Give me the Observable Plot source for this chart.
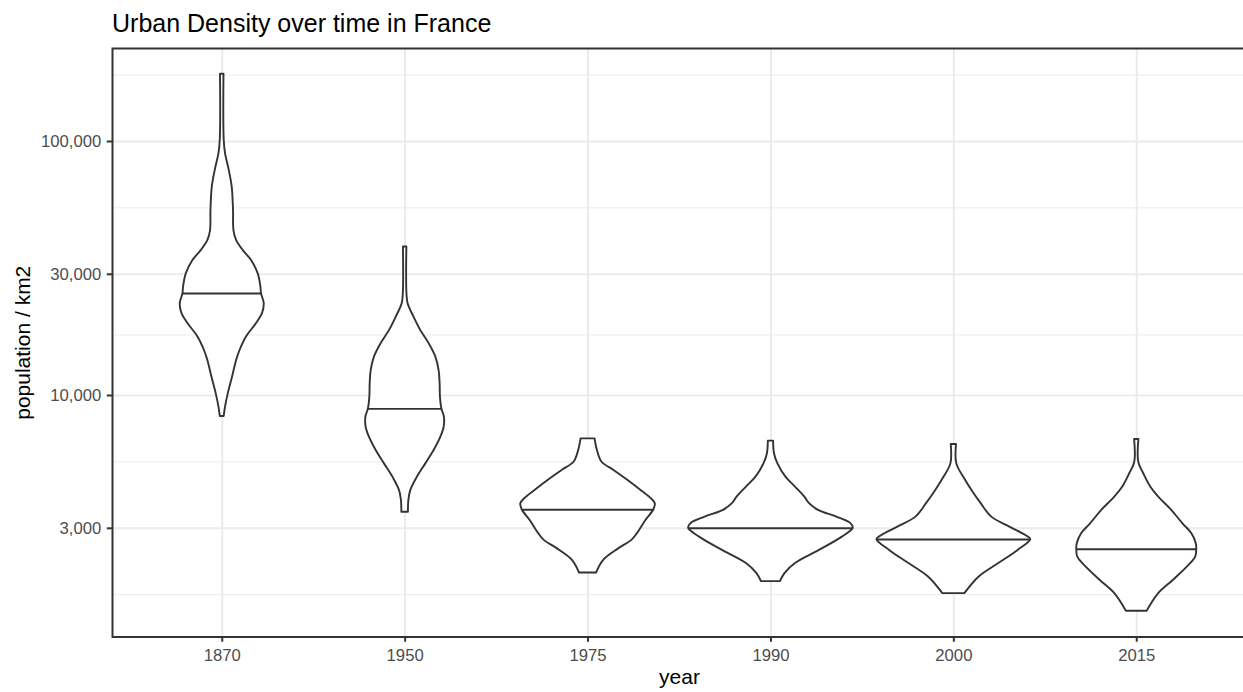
<!DOCTYPE html>
<html>
<head>
<meta charset="utf-8">
<script src="https://cdn.jsdelivr.net/npm/d3@7"></script>
<script src="https://cdn.jsdelivr.net/npm/@observablehq/plot@0.6"></script>
<style>
  html, body { margin: 0; padding: 0; background: white; }
  #wrap { width: 1243px; height: 692px; overflow: hidden; font-family: "Liberation Sans", Arial, Helvetica, sans-serif; }
  #title { position: relative; height: 40px; }
  #title span { position: absolute; left: 112px; top: 11px; font-size: 25px; line-height: 25px; color: #000; white-space: nowrap; }
  svg { display: block; }
</style>
</head>
<body>
<div id="wrap">
  <div id="title"><span>Urban Density over time in France</span></div>
  <div id="chart"></div>
</div>
<script>
// ---- data ----
const years = ["1870", "1950", "1975", "1990", "2000", "2015"];
const medians = [25200, 8860, 3550, 3000, 2710, 2480];

// violin outlines: density value (population / km2) and relative width (max = 100)
const dens1870 = [184000, 101000, 89500, 77000, 66100, 53500, 44600, 40800, 37200, 34000, 30100, 26700, 25150, 23000, 21000, 19200, 17000, 15000, 13700, 11800, 10150, 9000, 8270];
const width1870 = [2.1, 2.4, 4.0, 8.5, 12.1, 13.7, 14.2, 17.4, 25.5, 35.6, 43.7, 47.0, 47.7, 51.0, 48.9, 41.7, 29.5, 21.5, 17.4, 12.5, 7.3, 4.0, 2.4];

const dens1950 = [38400, 30100, 25150, 22960, 20300, 18000, 16000, 14150, 12500, 11100, 9850, 8860, 8210, 7500, 6850, 6070, 5380, 4770, 4230, 3860, 3470];
const width1950 = [2.1, 1.8, 2.2, 3.6, 10.9, 19.1, 29.1, 37.3, 41.3, 42.5, 42.9, 44.6, 47.7, 47.4, 43.4, 35.2, 25.1, 14.9, 6.9, 4.5, 4.0];

const dens1975 = [6750, 6070, 5460, 5070, 4630, 4230, 3920, 3750, 3550, 3220, 2860, 2690, 2490, 2240, 2000];
const width1975 = [8.5, 11.4, 17.0, 31.5, 48.6, 64.4, 77.1, 81.7, 80.0, 70.3, 60.0, 53.2, 37.2, 18.8, 10.3];

const dens1990 = [6610, 5900, 5380, 4770, 4360, 3980, 3750, 3530, 3320, 3130, 3000, 2770, 2450, 2180, 1990, 1850];
const width1990 = [3.2, 4.3, 8.5, 18.2, 29.8, 41.2, 46.9, 57.7, 80.1, 97.1, 100, 86.8, 58.3, 29.8, 17.0, 11.5];

const dens2000 = [6410, 5380, 4700, 4160, 3750, 3320, 3030, 2810, 2710, 2450, 2180, 1930, 1660];
const width2000 = [3.2, 3.6, 13.1, 23.4, 33.2, 46.1, 68.0, 87.4, 93.5, 77.7, 54.6, 30.8, 13.4];

const dens2015 = [6710, 5460, 4920, 4360, 3980, 3530, 3130, 2860, 2610, 2480, 2310, 2110, 1870, 1660, 1415];
const width2015 = [2.6, 2.4, 8.5, 17.0, 26.7, 42.5, 55.9, 66.8, 72.3, 72.9, 71.6, 61.4, 44.3, 26.7, 12.6];

const yTicks = [3000, 10000, 30000, 100000];
const yMinor = [1643, 5477, 17321, 54772, 182574];

// ---- build tables ----
const allDens = [dens1870, dens1950, dens1975, dens1990, dens2000, dens2015];
const allWidth = [width1870, width1950, width1975, width1990, width2000, width2015];
const maxHalf = 0.45; // ggplot violin: width 0.9 of a category step

const outline = [];
allDens.forEach((vals, i) => {
  vals.forEach((v, j) => {
    const h = allWidth[i][j] / 100 * maxHalf;
    outline.push({year: years[i], v, x1: i - h, x2: i + h});
  });
});

function widthAt(vals, ws, m) {
  const lm = Math.log(m);
  for (let j = 0; j < vals.length - 1; j++) {
    const a = Math.log(vals[j]), b = Math.log(vals[j + 1]);
    if ((lm <= a && lm >= b) || (lm >= a && lm <= b)) {
      const t = a === b ? 0 : (lm - a) / (b - a);
      return ws[j] + t * (ws[j + 1] - ws[j]);
    }
  }
  return 0;
}
const medianRows = medians.map((m, i) => {
  const h = widthAt(allDens[i], allWidth[i], m) / 100 * maxHalf;
  return {year: years[i], v: m, x1: i - h, x2: i + h};
});

const idx = years.map((_, i) => i);
const ink = "#333333";
const grid = "#ebebeb";

const chart = Plot.plot({
  width: 1243,
  height: 652,
  marginLeft: 112,
  marginRight: -3,
  marginTop: 8,
  marginBottom: 55.5,
  style: {fontFamily: '"Liberation Sans", Arial, Helvetica, sans-serif', background: "white", overflow: "hidden"},
  x: {type: "linear", domain: [-0.6, 5.6]},
  y: {type: "log", domain: [1120, 232300]},
  marks: [
    Plot.gridY(yMinor, {stroke: grid, strokeOpacity: 1, strokeWidth: 1}),
    Plot.gridY(yTicks, {stroke: grid, strokeOpacity: 1, strokeWidth: 2}),
    Plot.gridX(idx, {stroke: grid, strokeOpacity: 1, strokeWidth: 2}),
    Plot.areaX(outline, {y: "v", x1: "x1", x2: "x2", z: "year", fill: "white", stroke: ink, strokeWidth: 1.9, curve: "catmull-rom"}),
    Plot.ruleY(medianRows, {y: "v", x1: "x1", x2: "x2", stroke: ink, strokeWidth: 1.9}),
    Plot.frame({stroke: ink, strokeWidth: 2}),
    Plot.axisY(yTicks, {tickSize: 5.2, tickPadding: 6, tickFormat: d3.format(","), fontSize: 16.7, stroke: ink, fill: "#4d4d4d", strokeWidth: 2, label: null}),
    Plot.axisX(idx, {tickSize: 5.2, tickPadding: 7, tickFormat: i => years[i], fontSize: 16.7, stroke: ink, fill: "#4d4d4d", strokeWidth: 2, label: null}),
    Plot.text(["year"], {text: d => d, frameAnchor: "bottom", textAnchor: "middle", lineAnchor: "middle", dy: 39.8, fontSize: 21, fill: "#000"}),
    Plot.text(["population / km2"], {text: d => d, frameAnchor: "left", textAnchor: "middle", lineAnchor: "middle", rotate: -90, dx: -89.2, fontSize: 21, fill: "#000"})
  ]
});
document.getElementById("chart").appendChild(chart);
</script>
</body>
</html>
